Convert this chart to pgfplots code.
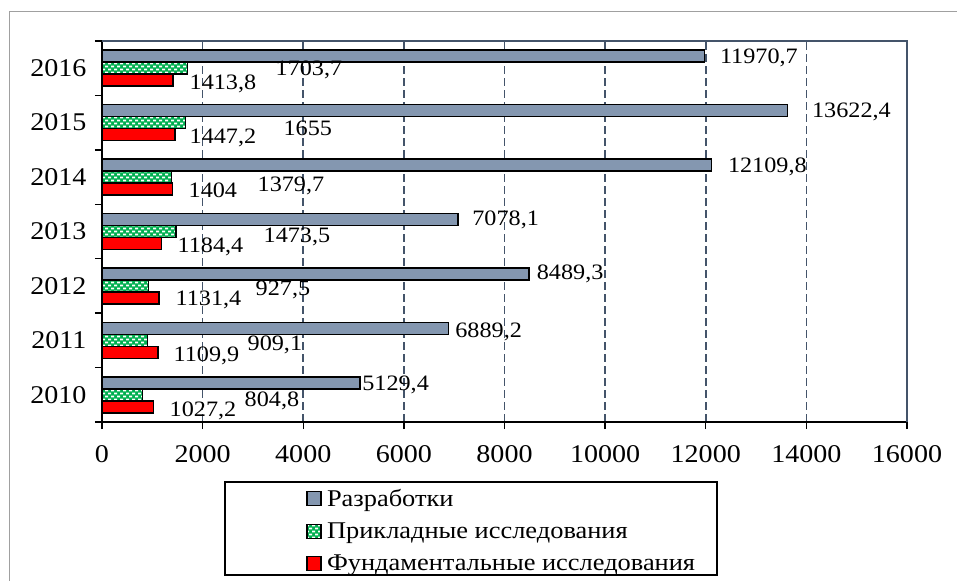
\documentclass[border=0pt]{standalone}
\usepackage{fontspec}
\setmainfont[FakeStretch=1.1]{Liberation Serif}
\usepackage{pgfplots}
\usepackage{pgfplotstable}
\pgfplotsset{compat=1.18}
\usetikzlibrary{patterns}

\definecolor{devblue}{RGB}{132,151,176}
\definecolor{appgreen}{RGB}{0,176,80}
\definecolor{fundred}{RGB}{255,0,0}
\definecolor{slate}{RGB}{68,84,106}
\definecolor{framegray}{RGB}{160,160,160}

% small white dashes on the green bars
\pgfdeclarepatternformonly{confetti}{\pgfqpoint{-1bp}{-1bp}}{\pgfqpoint{7bp}{7bp}}{\pgfqpoint{6bp}{6bp}}{%
  \pgfpathrectangle{\pgfqpoint{0bp}{0.6bp}}{\pgfqpoint{3.2bp}{1.8bp}}%
  \pgfpathrectangle{\pgfqpoint{3bp}{3.6bp}}{\pgfqpoint{3.2bp}{1.8bp}}%
  \pgfusepath{fill}%
}

% y: year index (0 = 2010), x: value, dx/dy: label offset in bp
\pgfplotstableread{
y x dx dy
0 5129.4 1.5 0
1 6889.2 6 -1.5
2 8489.3 7 1.5
3 7078.1 13.5 1.5
4 12109.8 16 0
5 13622.4 24 0.5
6 11970.7 15 0
}\razrabotki

\pgfplotstableread{
y x dx dy
0 804.8 101.5 -4.2
1 909.1 99.2 -2.6
2 927.5 106.3 -2.1
3 1473.5 86.8 -3.5
4 1379.7 85.5 -6.9
5 1655 97.6 -5.3
6 1703.7 87.2 0
}\prikladnye

\pgfplotstableread{
y x dx dy
0 1027.2 15.3 -2.2
1 1109.9 15.1 -1.6
2 1131.4 16 -0.1
3 1184.4 15.3 -1.5
4 1404 15.3 -0.9
5 1447.2 14.1 -1.3
6 1413.8 15.8 -1.8
}\fundamentalnye

\begin{document}
\begin{tikzpicture}
\useasboundingbox (0,0) rectangle (957bp,581bp);
% outer chart frame
\draw[framegray, line width=1bp] (9bp,0) -- (9bp,569.5bp) -- (960bp,569.5bp);

\begin{axis}[
  at={(102bp,159bp)}, anchor=south west,
  scale only axis, width=805bp, height=381bp,
  xbar, bar width=12bp,
  xmin=0, xmax=16000, ymin=-0.5, ymax=6.5,
  clip=false,
  xtick={0,2000,...,16000},
  scaled x ticks=false,
  xticklabel style={yshift=-13bp, /pgf/number format/1000 sep={}},
  ytick={-0.5,0.5,...,6.5},
  yticklabels={2010,2011,2012,2013,2014,2015,2016},
  y tick label as interval,
  yticklabel style={xshift=-5bp},
  /pgf/number format/assume math mode=true,
  tick label style={font=\fontsize{25.5bp}{30bp}\selectfont},
  tick align=outside, tick pos=left,
  major tick length=7bp,
  tick style={black, line width=1.3bp},
  axis x line*=bottom, axis y line*=left,
  axis line style={black, line width=1.5bp, -},
  xmajorgrids,
  major grid style={slate, line width=1.6bp, dash pattern=on 8bp off 4bp},
  point meta=x,
  nodes near coords={\pgfmathprintnumber[fixed, precision=1, use comma, 1000 sep={}]{\pgfplotspointmeta}},
  visualization depends on={\thisrow{dx} \as \lbldx},
  visualization depends on={\thisrow{dy} \as \lbldy},
  every node near coord/.append style={anchor=west, inner sep=0pt,
    text height=15bp, text depth=0pt, black,
    font=\fontsize{22bp}{26bp}\selectfont,
    xshift=\lbldx bp, yshift=\lbldy bp},
  legend image code/.code={\draw[#1] (0bp,-7bp) rectangle (14bp,7bp);},
  legend cell align=left,
  legend style={at={(0.2495,-0.164)}, anchor=north west, draw=none, fill=none,
    font=\fontsize{24bp}{28bp}\selectfont, row sep=10bp,
    nodes={inner sep=2.5bp},
    /tikz/every odd column/.append style={column sep=3bp}},
]
\addplot[draw=black, line width=1.5bp, fill=devblue, bar shift=12bp]
  table[x=x, y=y] {\razrabotki};
\addlegendentry{Разработки}
\addplot[draw=black, line width=1.5bp, fill=appgreen, bar shift=0bp,
  postaction={pattern=confetti, pattern color=white}]
  table[x=x, y=y] {\prikladnye};
\addlegendentry{Прикладные исследования}
\addplot[draw=black, line width=1.5bp, fill=fundred, bar shift=-12bp]
  table[x=x, y=y] {\fundamentalnye};
\addlegendentry{Фундаментальные исследования}

% top and right border of the plot area
\draw[slate, line width=1.5bp] (rel axis cs:0,1) -- (rel axis cs:1,1) -- (rel axis cs:1,0);
\end{axis}

% legend frame
\draw[black, line width=1.5bp] (225bp,6bp) rectangle (717bp,99bp);
\end{tikzpicture}
\end{document}
